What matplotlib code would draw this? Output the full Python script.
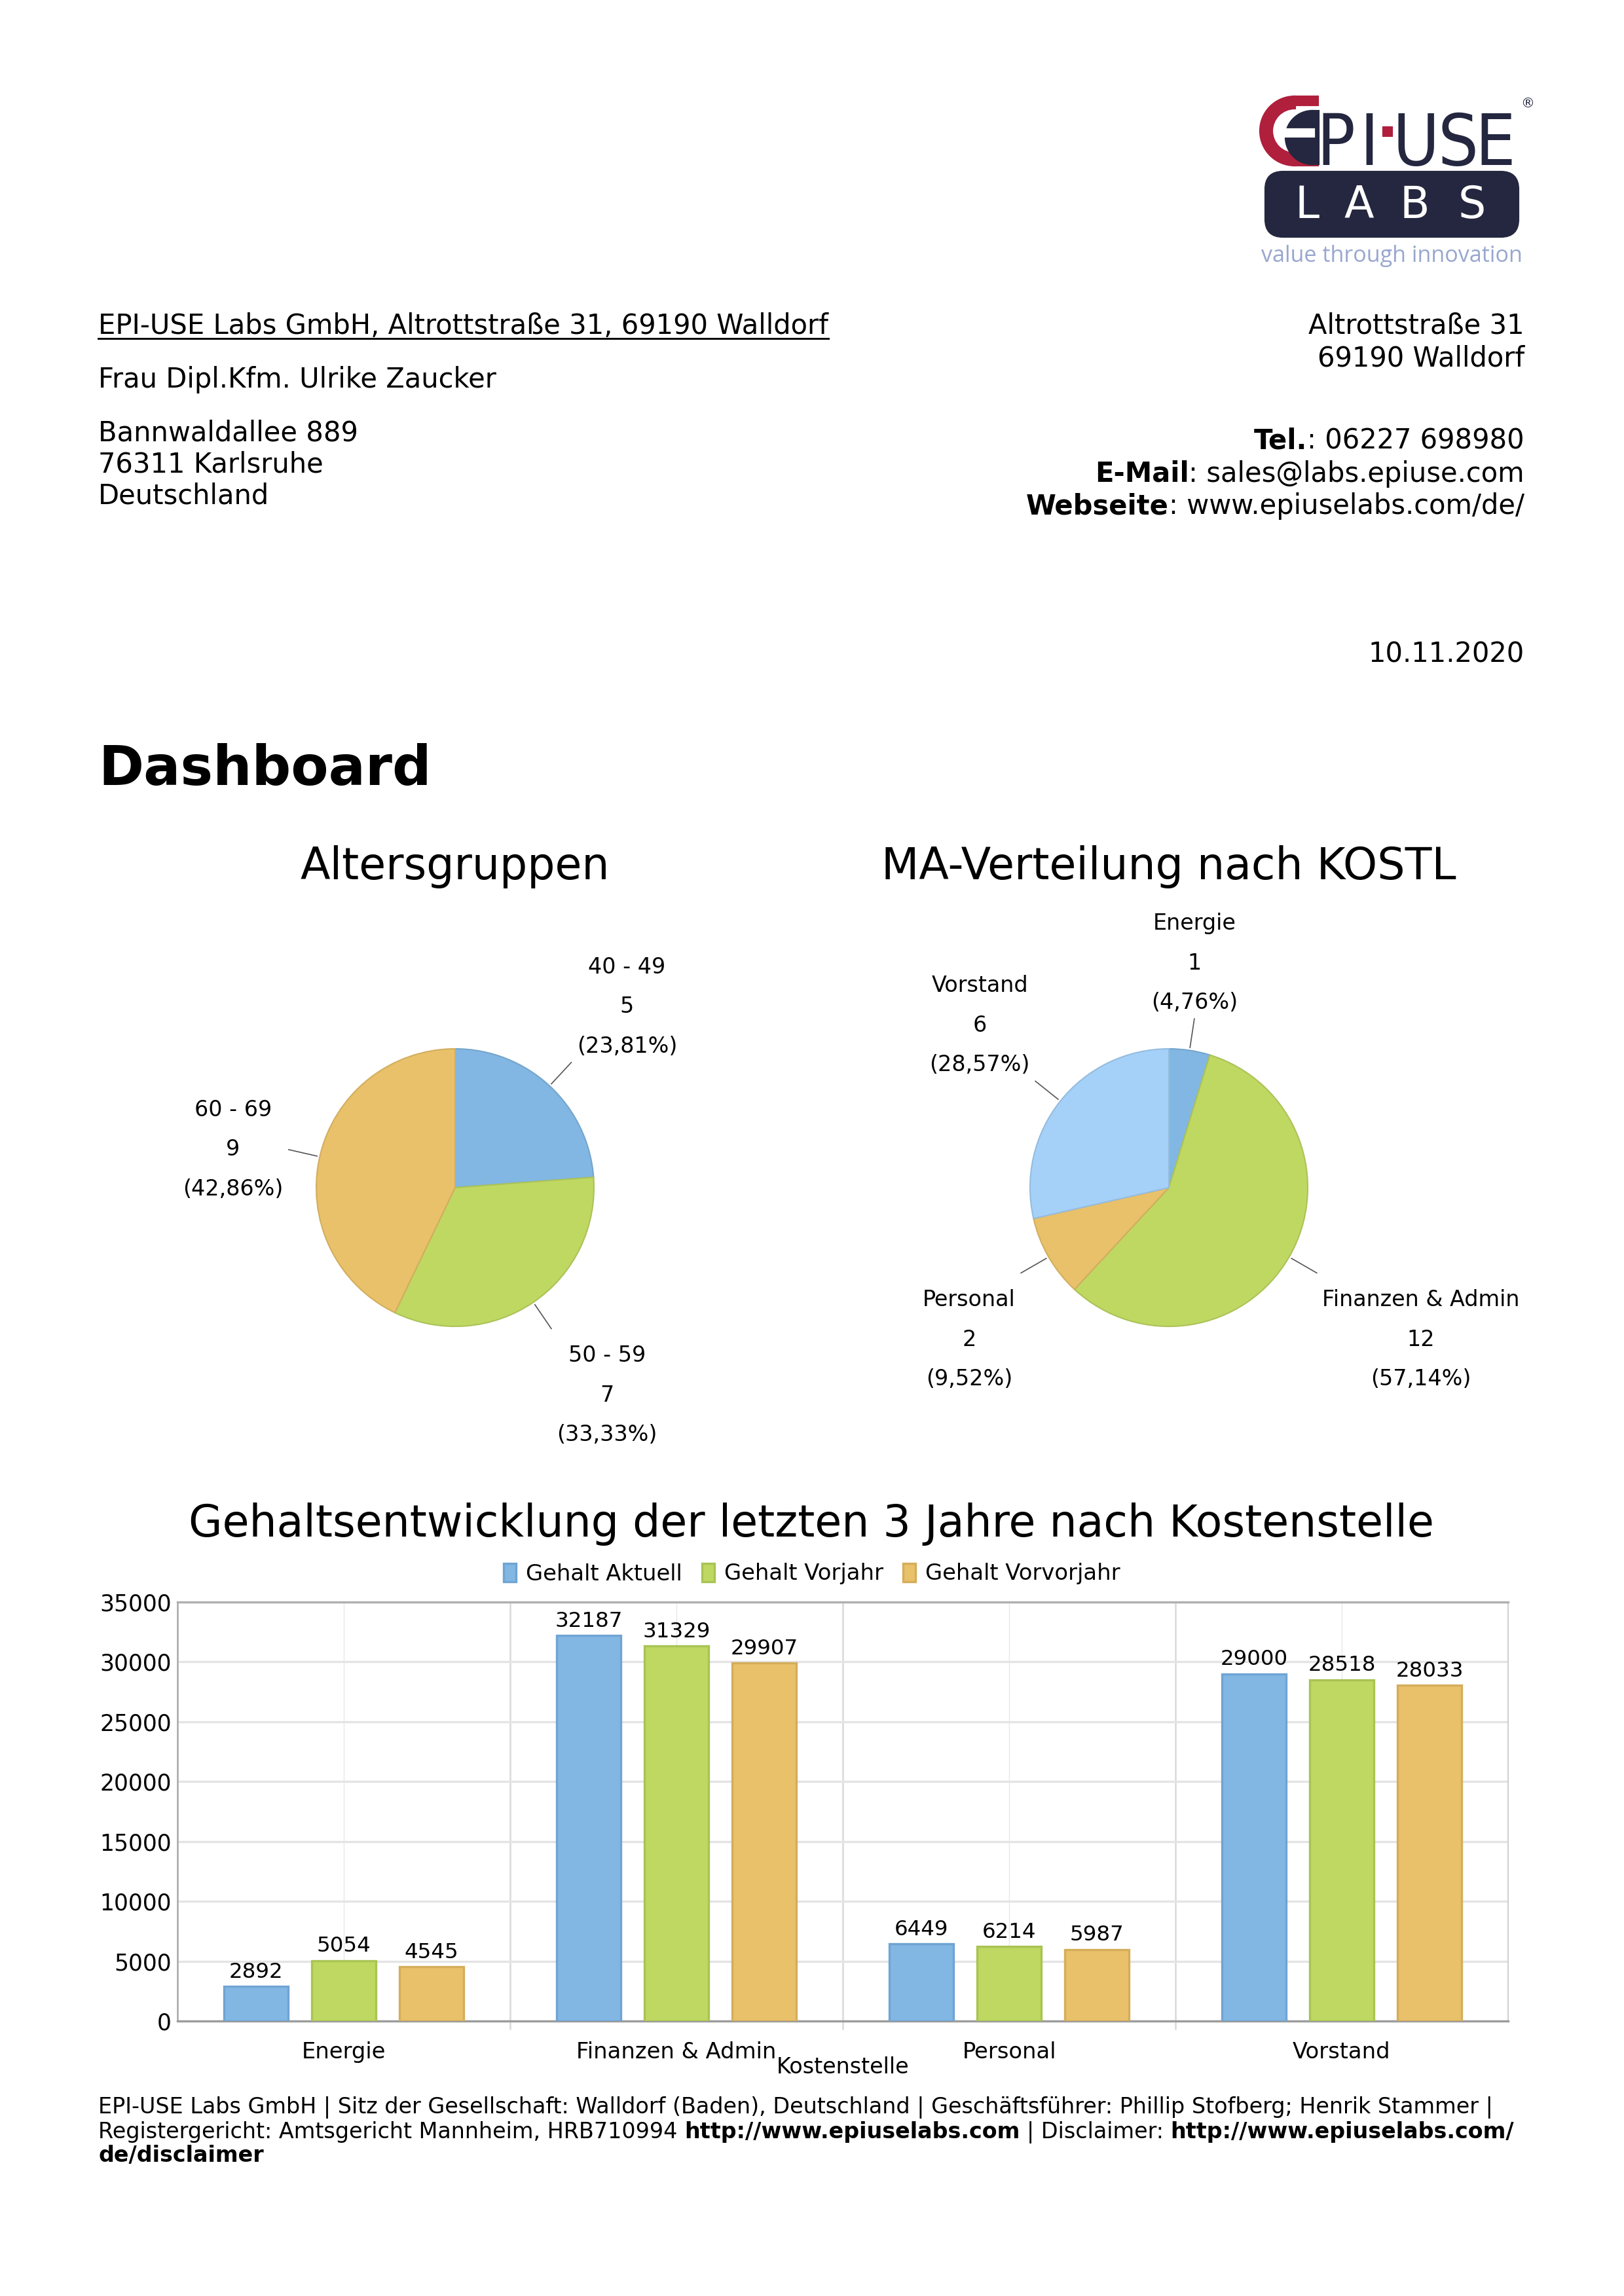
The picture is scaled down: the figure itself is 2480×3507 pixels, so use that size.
"""Dashboard letter page: header block, two pie charts and a grouped bar chart."""
import numpy as np
import matplotlib
matplotlib.use("Agg")
import matplotlib.pyplot as plt
from matplotlib.colors import to_rgb
from matplotlib.patches import Wedge, Rectangle, FancyBboxPatch

W, H, DPI = 2480, 3507, 300

# ---- data -------------------------------------------------------------
age_groups = ["40 - 49", "50 - 59", "60 - 69"]
age_counts = [5, 7, 9]
age_colors = ["#82b7e3", "#bfd862", "#e9c16a"]

kostl_names = ["Energie", "Finanzen & Admin", "Personal", "Vorstand"]
kostl_counts = [1, 12, 2, 6]
kostl_colors = ["#82b7e3", "#bfd862", "#e9c16a", "#a5d1f8"]

cost_centers = ["Energie", "Finanzen & Admin", "Personal", "Vorstand"]
gehalt_aktuell = [2892, 32187, 6449, 29000]
gehalt_vorjahr = [5054, 31329, 6214, 28518]
gehalt_vorvorjahr = [4545, 29907, 5987, 28033]
series_names = ["Gehalt Aktuell", "Gehalt Vorjahr", "Gehalt Vorvorjahr"]
bar_colors = ["#82b7e3", "#bfd862", "#e9c16a"]
bar_edges = ["#6fa4d4", "#a9c453", "#d5ad5a"]
y_ticks = [0, 5000, 10000, 15000, 20000, 25000, 30000, 35000]

footer_line1 = ("EPI-USE Labs GmbH | Sitz der Gesellschaft: Walldorf (Baden), Deutschland | "
                "Geschäftsführer: Phillip Stofberg; Henrik Stammer |")
footer_line2 = [("Registergericht: Amtsgericht Mannheim, HRB710994 ", "normal"),
                ("http://www.epiuselabs.com", "bold"),
                (" | Disclaimer: ", "normal"),
                ("http://www.epiuselabs.com/", "bold")]
footer_line3 = "de/disclaimer"

plt.rcParams["font.family"] = ["DejaVu Sans"]

fig = plt.figure(figsize=(W / DPI, H / DPI), dpi=DPI)
renderer = fig.canvas.get_renderer()


def fx(x):
    return x / W


def fy(y):
    return 1 - y / H


# overlay axes in pixel coordinates (y down) for the letter text and logo
ov = fig.add_axes([0, 0, 1, 1])
ov.set_xlim(0, W)
ov.set_ylim(H, 0)
ov.axis("off")

BODY = 10.0


def ink_width(t):
    return t.get_window_extent(renderer).width


def text_runs(x, y, parts, size, align="left"):
    """Place (text, weight) pieces one after another on one baseline."""
    sp = 0.318 * size * DPI / 72
    items = []
    for s, wt in parts:
        lead = len(s) - len(s.lstrip())
        trail = len(s) - len(s.rstrip())
        t = ov.text(0, y, s.strip(), fontsize=size, fontweight=wt, va="baseline")
        items.append((t, lead * sp, ink_width(t), trail * sp))
    total = sum(a + b + c for _, a, b, c in items)
    cur = x if align == "left" else x - total
    for t, a, b, c in items:
        t.set_x(cur + a)
        cur += a + b + c
    return items


# ---- logo ---------------------------------------------------------------
navy, red, slate = "#24273f", "#b01f3c", "#98a7cf"
ov.add_patch(Wedge((1977, 200), 52, 90, 270, width=17, color=red))
ov.add_patch(Rectangle((1976, 148), 36, 12, color=red))
ov.add_patch(Rectangle((1976, 240), 36, 12, color=red))
ov.add_patch(Wedge((2004, 210), 40, 90, 270, color=navy))
ov.add_patch(Rectangle((2003, 170), 10, 80, color=navy))
ov.add_patch(Rectangle((1960, 198), 46, 10, color="white"))
logo_font = dict(family=["Liberation Sans Narrow", "DejaVu Sans"], fontstretch="condensed",
                 fontsize=26, color=navy, ha="center", va="baseline")
for ch, cx in zip("PIUSE", [2040, 2091, 2162, 2226, 2283]):
    ov.text(cx, 252, ch, **logo_font)
ov.add_patch(Rectangle((2113, 195), 12, 12, color=red))
ov.text(2333, 158, "®", fontsize=5, color=navy, ha="center", va="center")
ov.add_patch(FancyBboxPatch((1945, 275), 361, 74, boxstyle="round,pad=12,rounding_size=26",
                            color=navy))
for ch, cx in zip("LABS", [1996, 2075, 2160, 2248]):
    ov.text(cx, 333, ch, fontsize=16, color="white", ha="center", va="baseline")
ov.text(2125, 400, "value through innovation", family=["Open Sans", "DejaVu Sans"],
        fontsize=8.2, color=slate, ha="center", va="baseline")

# ---- address block ----------------------------------------------------------
t = ov.text(150, 510, "EPI-USE Labs GmbH, Altrottstraße 31, 69190 Walldorf",
            fontsize=BODY, va="baseline")
bb = t.get_window_extent(renderer)
ov.plot([bb.x0, bb.x1], [517, 517], color="black", lw=0.7)
ov.text(150, 592, "Frau Dipl.Kfm. Ulrike Zaucker", fontsize=BODY, va="baseline")
for yy, line in zip([673, 722, 770], ["Bannwaldallee 889", "76311 Karlsruhe", "Deutschland"]):
    ov.text(150, yy, line, fontsize=BODY, va="baseline")

RIGHT = 2328
ov.text(RIGHT, 510, "Altrottstraße 31", fontsize=BODY, va="baseline", ha="right")
ov.text(RIGHT, 559, "69190 Walldorf", fontsize=BODY, va="baseline", ha="right")
text_runs(RIGHT, 686, [("Tel.", "bold"), (": 06227 698980", "normal")], BODY, align="right")
text_runs(RIGHT, 736, [("E-Mail", "bold"), (": sales@labs.epiuse.com", "normal")], BODY, align="right")
text_runs(RIGHT, 785, [("Webseite", "bold"), (": www.epiuselabs.com/de/", "normal")], BODY, align="right")
ov.text(RIGHT, 1011, "10.11.2020", fontsize=BODY, va="baseline", ha="right")

ov.text(150, 1199, "Dashboard", fontsize=20, fontweight="bold", va="baseline")


# ---- pies ---------------------------------------------------------------
def darker(c, f=0.9):
    return tuple(np.array(to_rgb(c)) * f)


def draw_pie(cx, cy, names, counts, colors, title):
    R = 212
    side = 2.5 * R
    ax = fig.add_axes([fx(cx - side / 2), fy(cy + side / 2), side / W, side / H])
    wedges, _ = ax.pie(counts, colors=colors, startangle=90, counterclock=False,
                       radius=1.0, wedgeprops=dict(linewidth=0.5))
    for w, c in zip(wedges, colors):
        w.set_edgecolor(darker(c))
    ax.set_xlim(-1.25, 1.25)
    ax.set_ylim(-1.25, 1.25)
    total = sum(counts)
    for w, name, n in zip(wedges, names, counts):
        ang = np.deg2rad((w.theta1 + w.theta2) / 2)
        c, s = np.cos(ang), np.sin(ang)
        ax.plot([1.02 * c, 1.23 * c], [1.02 * s, 1.23 * s], color="#555555", lw=0.4,
                clip_on=False)
        ha = "center" if abs(c) < 0.3 else ("left" if c > 0 else "right")
        va = "bottom" if s > 0.55 else ("top" if s < -0.4 else "center")
        dx = 0 if ha == "center" else (2 if ha == "left" else -2)
        dy = {"bottom": 2, "top": -6, "center": 0}[va]
        pct = f"{100 * n / total:.2f}".replace(".", ",")
        ax.annotate(f"{name}\n{n}\n({pct}%)", xy=(1.23 * c, 1.23 * s),
                    xytext=(dx, dy), textcoords="offset points", ha=ha, va=va,
                    multialignment="center", linespacing=2.05, fontsize=8.0,
                    annotation_clip=False)
    fig.text(fx(cx), fy(1324), title, fontsize=16, ha="center", va="center")
    return ax


draw_pie(695, 1814, age_groups, age_counts, age_colors, "Altersgruppen")
draw_pie(1785, 1814, kostl_names, kostl_counts, kostl_colors, "MA-Verteilung nach KOSTL")

# ---- grouped bars -------------------------------------------------------
L, R_, T, B = 271, 2303, 2447, 3087
bx = fig.add_axes([fx(L), fy(B), (R_ - L) / W, (B - T) / H])
x = np.arange(len(cost_centers))
offsets = [-0.264, 0.0, 0.264]
series = [gehalt_aktuell, gehalt_vorjahr, gehalt_vorvorjahr]
handles = []
for vals, name, col, ec, off in zip(series, series_names, bar_colors, bar_edges, offsets):
    bars = bx.bar(x + off, vals, width=0.194, color=col, edgecolor=ec, linewidth=0.8,
                  label=name, zorder=3)
    bx.bar_label(bars, padding=1.5, fontsize=7.8)
    handles.append(bars)

bx.set_xlim(-0.5, 3.5)
bx.set_ylim(0, 35000)
bx.set_yticks(y_ticks)
bx.set_xticks(x)
bx.set_xticklabels(cost_centers)
bx.set_xticks([0.5, 1.5, 2.5], minor=True)
bx.set_axisbelow(True)
bx.grid(axis="y", color="#e4e4e4", lw=0.8)
bx.grid(axis="x", which="major", color="#e9e9e9", lw=0.35)
bx.grid(axis="x", which="minor", color="#d9d9d9", lw=0.6)
bx.tick_params(axis="both", which="major", length=0, labelsize=8.1)
bx.tick_params(axis="y", which="major", labelsize=8.3)
bx.tick_params(axis="x", which="major", pad=7.4)
bx.tick_params(axis="y", which="major", pad=2.2)
bx.tick_params(axis="x", which="minor", length=3, width=0.6, color="#d9d9d9")
bx.spines["left"].set_color("#a8a8a8")
bx.spines["left"].set_linewidth(0.6)
bx.spines["bottom"].set_color("#9c9c9c")
bx.spines["bottom"].set_linewidth(0.8)
bx.spines["top"].set_color("#b0b0b0")
bx.spines["top"].set_linewidth(0.8)
bx.spines["right"].set_color("#d0d0d0")
bx.spines["right"].set_linewidth(0.5)
bx.set_xlabel("Kostenstelle", fontsize=8.0)
bx.xaxis.set_label_coords(0.5, -0.084)

fig.legend(handles=handles, labels=series_names, loc="center",
           bbox_to_anchor=(0.5, fy(2404)), ncol=3, frameon=False, fontsize=8.1,
           handlelength=0.55, handleheight=0.9, handletextpad=0.45, columnspacing=0.9)
fig.text(fx(1239), fy(2328), "Gehaltsentwicklung der letzten 3 Jahre nach Kostenstelle",
         fontsize=16, ha="center", va="center")

# ---- footer -------------------------------------------------------------
FOOT = 8.0
ov.text(150, 3228, footer_line1, fontsize=FOOT, va="baseline")
text_runs(150, 3266, footer_line2, FOOT)
ov.text(150, 3302, footer_line3, fontsize=FOOT, fontweight="bold", va="baseline")

fig.savefig("out.png", dpi=DPI, facecolor="white")
